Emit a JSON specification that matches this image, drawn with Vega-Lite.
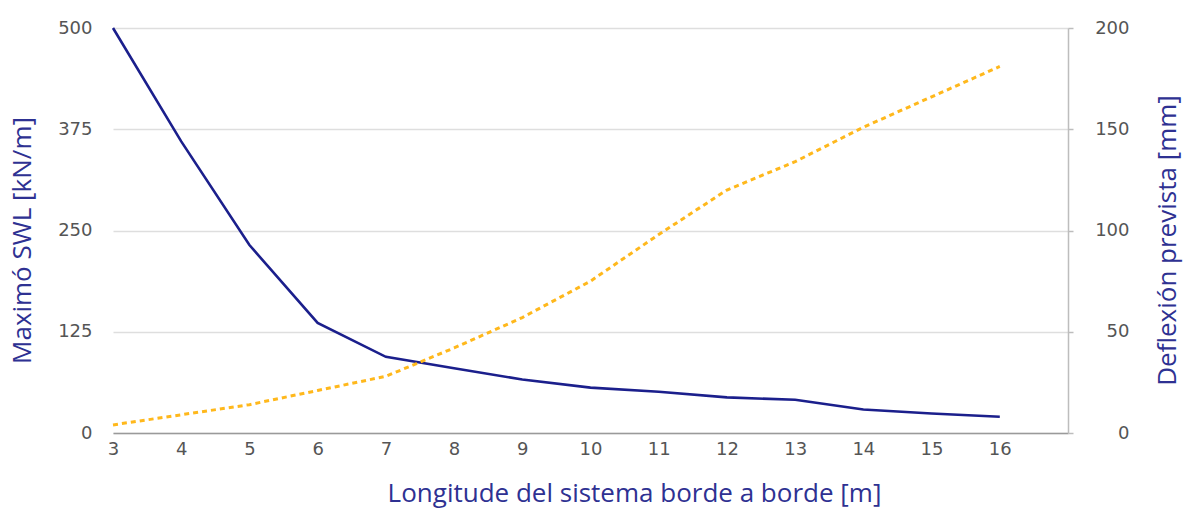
{
  "$schema": "https://vega.github.io/schema/vega-lite/v6.json",
  "width": 955,
  "height": 405,
  "autosize": {"type": "none"},
  "padding": {"left": 113, "top": 28, "right": 119, "bottom": 77},
  "background": "white",
  "config": {"view": {"stroke": null}},
  "data": {"values": [
    {"x": 3, "swl": 500, "def": 4},
    {"x": 4, "swl": 360, "def": 9},
    {"x": 5, "swl": 232, "def": 14},
    {"x": 6, "swl": 136, "def": 21},
    {"x": 7, "swl": 94, "def": 28},
    {"x": 8, "swl": 80, "def": 42},
    {"x": 9, "swl": 66, "def": 57},
    {"x": 10, "swl": 56, "def": 75},
    {"x": 11, "swl": 51, "def": 98},
    {"x": 12, "swl": 44, "def": 120},
    {"x": 13, "swl": 41, "def": 134},
    {"x": 14, "swl": 29, "def": 151},
    {"x": 15, "swl": 24, "def": 166},
    {"x": 16, "swl": 20, "def": 181}
  ]},
  "encoding": {
    "x": {
      "field": "x", "type": "quantitative",
      "scale": {"domain": [3, 17], "nice": false},
      "axis": {
        "values": [3,4,5,6,7,8,9,10,11,12,13,14,15,16],
        "grid": false, "ticks": false,
        "domain": true, "domainColor": "#9a9a9a", "domainWidth": 1.5,
        "labelFont": "DejaVu Sans", "labelFontSize": 18, "labelColor": "#555555",
        "labelPadding": 7, "labelFlush": false, "labelOverlap": false, "labelBound": false,
        "title": "Longitude del sistema borde a borde [m]",
        "titleFont": "Open Sans", "titleFontSize": 26, "titleFontWeight": "normal",
        "titleColor": "#2e3192",
        "titleX": 521, "titleY": 60, "titleBaseline": "middle", "titleAnchor": null
      }
    }
  },
  "layer": [
    {
      "mark": {"type": "line", "color": "#1b1f8c", "strokeWidth": 2.6},
      "encoding": {
        "y": {
          "field": "swl", "type": "quantitative",
          "scale": {"domain": [0, 500], "nice": false},
          "axis": {
            "orient": "left",
            "values": [0, 125, 250, 375, 500],
            "domain": false, "ticks": false,
            "grid": true, "gridColor": "#dedede", "gridWidth": 1.5,
            "labelFont": "DejaVu Sans", "labelFontSize": 18, "labelColor": "#555555",
            "labelPadding": 21, "labelFlush": false, "labelOverlap": false, "labelBound": false,
            "title": "Maximó SWL [kN/m]",
            "titleFont": "Open Sans", "titleFontSize": 26, "titleFontWeight": "normal",
            "titleColor": "#2e3192",
            "titleAngle": 270, "titleX": -91, "titleY": 212, "titleBaseline": "middle", "titleAlign": "center"
          }
        }
      }
    },
    {
      "mark": {"type": "line", "color": "#ffb81c", "strokeWidth": 3, "strokeDash": [5, 4]},
      "encoding": {
        "y": {
          "field": "def", "type": "quantitative",
          "scale": {"domain": [0, 200], "nice": false},
          "axis": {
            "orient": "right",
            "values": [0, 50, 100, 150, 200],
            "domain": true, "domainColor": "#bdbdbd", "domainWidth": 1.5,
            "ticks": true, "tickSize": 5, "tickColor": "#bdbdbd", "tickWidth": 1.5,
            "grid": false,
            "labelFont": "DejaVu Sans", "labelFontSize": 18, "labelColor": "#555555",
            "labelAlign": "right", "labelPadding": 56, "labelFlush": false, "labelOverlap": false, "labelBound": false,
            "title": "Deflexión prevista [mm]",
            "titleFont": "Open Sans", "titleFontSize": 26, "titleFontWeight": "normal",
            "titleColor": "#2e3192",
            "titleAngle": 270, "titleX": 99, "titleY": 212, "titleBaseline": "middle", "titleAlign": "center"
          }
        }
      }
    }
  ],
  "resolve": {"scale": {"y": "independent"}}
}
